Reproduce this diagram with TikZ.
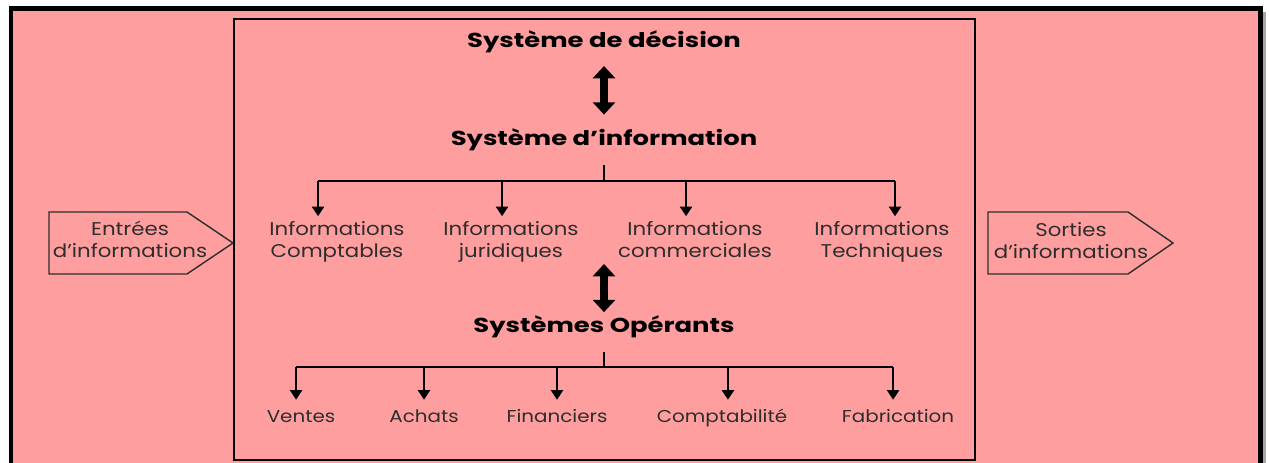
\documentclass[tikz,border=0pt]{standalone}
\usepackage{fontspec}
\setmainfont{Poppins}[FakeStretch=1.155]
\newfontfamily\titrefont{Poppins}[FakeStretch=1.28]
\usetikzlibrary{arrows.meta,positioning}
\definecolor{rosefond}{RGB}{255,158,158}
\definecolor{textgris}{RGB}{45,45,45}

\begin{document}
\begin{tikzpicture}
  [x=0.02cm,y=-0.02cm,
   titre/.style={font=\titrefont\bfseries\fontsize{11.5}{13}\selectfont,inner sep=1pt,anchor=base},
   item/.style={text=textgris,font=\fontsize{10.5}{12}\selectfont,align=center,inner sep=1pt,anchor=base},
   petit/.style={text=textgris,font=\fontsize{9.8}{12}\selectfont,inner sep=1pt,anchor=base,text height=7.5pt},
   fleche/.style={-{Triangle[width=7pt,length=5.5pt]},line width=1pt},
   bus/.style={line width=1pt},
   bidir/.style={{Triangle[width=12.5pt,length=7pt]}-{Triangle[width=12.5pt,length=7pt]},line width=4.5pt},
   pointe/.style={draw=textgris,thick}]
  \useasboundingbox (0,0) rectangle (1269,463);
  \fill[white] (0,0) rectangle (1269,463);
  \fill[black!35] (1262,12) rectangle (1266,463);
  \fill[rosefond] (12,10) rectangle (1260,463);
  \draw[line width=2.3pt] (11,470) -- (11,8.5) -- (1260.5,8.5) -- (1260.5,470);
  \draw[line width=1.2pt] (234,19) rectangle (975,460);
  % entrees / sorties
  \draw[pointe] (49,212) -- (187,212) -- (233,243) -- (187,274) -- (49,274) -- cycle;
  \draw[pointe] (988,212) -- (1128,212) -- (1173,243) -- (1128,274) -- (988,274) -- cycle;
  \node[item] (entrees) at (130,257) {Entrées\\d’informations};
  \node[item] (sorties) at (1071,258) {Sorties\\d’informations};
  % niveaux
  \node[titre] (decision) at (604,48) {Système de décision};
  \node[titre] (information) at (604,145) {Système d’information};
  \node[titre] (operants) at (604,332) {Systèmes Opérants};
  \draw[bidir,shorten <=6pt,shorten >=6.5pt] (decision) -- (information);
  % informations
  \node[item] (comptables) at (337,257) {Informations\\Comptables};
  \node[item] (juridiques) at (511,257) {Informations\\juridiques};
  \node[item] (commerciales) at (695,257) {Informations\\commerciales};
  \node[item] (techniques) at (882,257) {Informations\\Techniques};
  \coordinate (bus_info) at (604,181);
  \coordinate (haut_op) at (604,264);
  \draw[bus,shorten <=7pt] (information.south) -- (bus_info);
  \draw[bus] ([xshift=-10.8pt]comptables.north |- bus_info) -- ([xshift=7.4pt]techniques.north |- bus_info);
  \draw[fleche,shorten >=2pt] ([xshift=-10.8pt]comptables.north |- bus_info) -- ([xshift=-10.8pt]comptables.north);
  \draw[fleche,shorten >=2pt] ([xshift=-5.1pt]juridiques.north |- bus_info) -- ([xshift=-5.1pt]juridiques.north);
  \draw[fleche,shorten >=2pt] ([xshift=-5.1pt]commerciales.north |- bus_info) -- ([xshift=-5.1pt]commerciales.north);
  \draw[fleche,shorten >=2pt] ([xshift=7.4pt]techniques.north |- bus_info) -- ([xshift=7.4pt]techniques.north);
  \draw[bidir,shorten >=0.5pt] (haut_op) -- (operants);
  % operants
  \node[petit] (ventes) at (301,422) {Ventes};
  \node[petit] (achats) at (424,422) {Achats};
  \node[petit] (financiers) at (557,422) {Financiers};
  \node[petit] (comptabilite) at (722,422) {Comptabilité};
  \node[petit] (fabrication) at (898,422) {Fabrication};
  \coordinate (bus_op) at (604,367);
  \draw[bus,shorten <=7pt] (operants.south) -- (bus_op);
  \draw[bus] ([xshift=-2.8pt]ventes.north |- bus_op) -- ([xshift=-2.8pt]fabrication.north |- bus_op);
  \draw[fleche,shorten >=4pt] ([xshift=-2.8pt]ventes.north |- bus_op) -- ([xshift=-2.8pt]ventes.north);
  \draw[fleche,shorten >=4pt] (achats.north |- bus_op) -- (achats.north);
  \draw[fleche,shorten >=4pt] (financiers.north |- bus_op) -- (financiers.north);
  \draw[fleche,shorten >=4pt] ([xshift=3.4pt]comptabilite.north |- bus_op) -- ([xshift=3.4pt]comptabilite.north);
  \draw[fleche,shorten >=4pt] ([xshift=-2.8pt]fabrication.north |- bus_op) -- ([xshift=-2.8pt]fabrication.north);
\end{tikzpicture}
\end{document}
